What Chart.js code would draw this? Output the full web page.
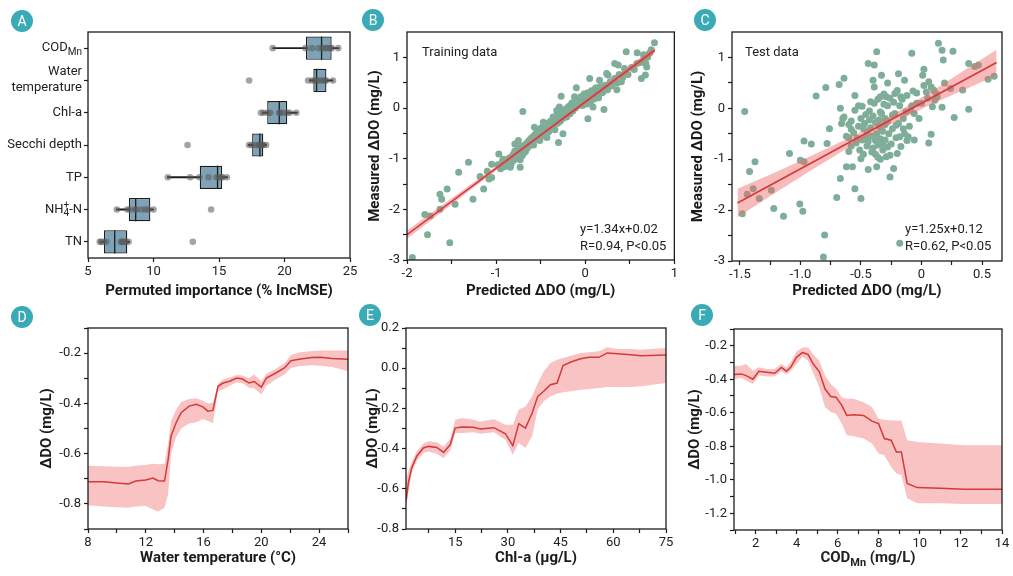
<!DOCTYPE html>
<html>
<head>
<meta charset="utf-8">
<script src="https://cdn.jsdelivr.net/npm/chart.js@4.4.1/dist/chart.umd.min.js"></script>
<style>
  body { margin: 0; background: #fff; }
  #wrap { position: relative; width: 1013px; height: 576px; overflow: hidden; font-family: Roboto, sans-serif; }
  canvas { position: absolute; }
  .tag { position: absolute; width: 22px; height: 22px; border-radius: 50%; background: #3aabb6;
         color: #fff; font: 14px Roboto, sans-serif; line-height: 22px; text-align: center; }
</style>
</head>
<body>
<div id="wrap">
  <canvas id="cA" width="360" height="300" style="left:0;top:0"></canvas>
  <canvas id="cB" width="320" height="300" style="left:360px;top:0"></canvas>
  <canvas id="cC" width="333" height="300" style="left:680px;top:0"></canvas>
  <canvas id="cD" width="360" height="276" style="left:0;top:300px"></canvas>
  <canvas id="cE" width="320" height="276" style="left:360px;top:300px"></canvas>
  <canvas id="cF" width="333" height="276" style="left:680px;top:300px"></canvas>
  <div class="tag" style="left:11px;top:10px">A</div>
  <div class="tag" style="left:362px;top:9px">B</div>
  <div class="tag" style="left:694px;top:9px">C</div>
  <div class="tag" style="left:11px;top:306px">D</div>
  <div class="tag" style="left:359px;top:304px">E</div>
  <div class="tag" style="left:691px;top:304px">F</div>
</div>
<script>
// ---------- A: permuted importance (box plots) ----------
const impVars = ['COD_{Mn}', 'Water\ntemperature', 'Chl-a', 'Secchi depth', 'TP', 'NH_{4}^{+}-N', 'TN'];
const impQ1  = [21.64, 22.2, 18.68, 17.53, 13.53, 8.13, 6.22];
const impQ3  = [23.6, 23.2, 20.21, 18.38, 15.24, 9.76, 8.0];
const impMed = [22.83, 22.45, 19.6, 18.12, 14.89, 8.64, 7.04];
const impLo  = [19.1, 21.9, 18.32, 17.23, 11.06, 7.17, 5.9];
const impHi  = [24.15, 23.7, 20.97, 18.63, 15.65, 10.0, 8.18];
const impPts = [
  [19.1, 21.6, 22.1, 22.6, 22.9, 23.1, 23.3, 23.5, 23.6, 24.1],
  [17.3, 21.8, 22.1, 22.3, 22.5, 22.7, 22.9, 23.1, 23.2, 23.7],
  [18.2, 18.4, 18.7, 18.9, 19.6, 19.65, 19.9, 20.2, 20.4, 20.9],
  [12.6, 17.3, 17.5, 17.8, 18.0, 18.1, 18.2, 18.3, 18.4, 18.6],
  [11.1, 12.8, 13.5, 14.2, 14.8, 15.0, 15.2, 15.25, 15.6],
  [7.2, 8.0, 8.2, 8.6, 8.7, 9.1, 9.4, 9.6, 10.0, 14.4],
  [5.9, 6.0, 6.2, 6.4, 7.5, 7.6, 7.7, 7.9, 8.1, 13.0]
];
const impTicks = [5, 10, 15, 20, 25];

// ---------- B: training data ----------
const trainPts = [
  [0.777,1.29],[0.46,1.11],[0.583,1.09],[0.654,1.05],[0.74,1.15],[0.68,0.88],[0.69,0.81],[0.63,0.58],[0.675,0.65],
  [0.33,0.88],[0.37,0.85],[0.24,0.68],[0.255,0.65],[0.44,0.78],[0.405,0.52],[0.355,0.36],[0.21,-0.03],[0.16,0.55],
  [0.05,0.58],[0.124,0.40],[0.2,0.32],[0.266,0.42],[0.03,-0.21],[0.087,0.02],[-0.006,0.15],[-0.1,0.40],[-0.12,0.22],
  [-0.06,0.09],[-0.17,-0.11],[-0.18,0.03],[-0.27,0.23],[-0.29,0.02],[-0.32,-0.05],[-0.36,-0.18],[-0.25,-0.51],
  [-0.30,-0.68],[-0.40,-0.38],[-0.47,-0.28],[-0.57,-0.38],[-0.58,-0.58],[-0.51,-0.64],[-0.43,-0.58],[-0.70,-0.07],
  [-0.75,-0.64],[-0.79,-0.71],[-0.71,-0.94],[-0.68,-0.87],[-0.73,-1.17],[-0.81,-1.04],[-0.84,-1.17],[-0.88,-1.14],
  [-0.92,-1.01],[-0.97,-0.91],[-1.05,-1.11],[-1.05,-1.37],[-1.14,-1.60],[-1.26,-1.80],[-1.31,-1.07],[-1.42,-1.27],
  [-1.46,-1.90],[-1.52,-2.66],[-1.55,-1.60],[-1.63,-1.70],[-1.61,-1.80],[-1.63,-2.0],[-1.74,-2.13],[-1.80,-2.10],
  [-1.77,-2.50],[-1.94,-2.95],
  [-0.88,-1.02],[-0.85,-0.98],[-0.83,-1.10],[-0.81,-0.92],[-0.79,-0.85],[-0.78,-1.00],[-0.76,-0.95],[-0.75,-0.82],
  [-0.74,-0.90],[-0.73,-1.02],[-0.72,-0.76],[-0.71,-0.85],[-0.70,-0.92],[-0.69,-0.80],[-0.68,-0.73],[-0.67,-0.86],
  [-0.66,-0.70],[-0.65,-0.79],[-0.64,-0.66],[-0.63,-0.75],[-0.62,-0.62],[-0.61,-0.71],[-0.60,-0.58],[-0.59,-0.67],
  [-0.58,-0.73],[-0.57,-0.54],[-0.56,-0.62],[-0.55,-0.50],[-0.54,-0.57],[-0.53,-0.45],[-0.52,-0.60],[-0.51,-0.52],
  [-0.50,-0.40],[-0.49,-0.48],[-0.48,-0.55],[-0.47,-0.36],[-0.46,-0.44],[-0.45,-0.51],[-0.44,-0.33],[-0.43,-0.41],
  [-0.42,-0.30],[-0.41,-0.47],[-0.40,-0.35],[-0.39,-0.26],[-0.38,-0.40],[-0.37,-0.30],[-0.36,-0.22],[-0.35,-0.33],
  [-0.34,-0.43],[-0.33,-0.25],[-0.32,-0.16],[-0.31,-0.30],[-0.30,-0.20],[-0.29,-0.11],[-0.28,-0.26],[-0.27,-0.15],
  [-0.26,-0.08],[-0.25,-0.20],[-0.24,-0.05],[-0.23,-0.13],[-0.22,-0.02],[-0.21,-0.18],[-0.20,-0.08],[-0.19,0.02],
  [-0.18,-0.12],[-0.17,0.05],[-0.16,-0.03],[-0.15,0.10],[-0.14,-0.06],[-0.13,0.04],[-0.12,0.12],[-0.11,0.00],
  [-0.10,0.08],[-0.09,0.16],[-0.08,0.05],[-0.07,0.18],[-0.06,0.10],[-0.05,0.22],[-0.04,0.12],[-0.03,0.05],
  [-0.02,0.20],[-0.01,0.28],[0.00,0.14],[0.01,0.24],[0.02,0.08],[0.03,0.30],[0.04,0.18],[0.05,0.26],[0.06,0.12],
  [0.07,0.34],[0.08,0.22],[0.09,0.30],[0.10,0.18],[0.11,0.38],[0.13,0.28],[0.15,0.20],[0.17,0.42],[0.19,0.30],
  [0.22,0.45],[0.25,0.36],[0.28,0.52],[0.30,0.44],[0.33,0.58],[0.36,0.50],[0.38,0.66],[0.42,0.60],[0.45,0.72],
  [0.48,0.66],[0.52,0.80],[0.55,0.76],[0.58,0.88],[0.62,0.90],[0.66,0.98],[0.70,1.00],[0.72,1.08],
  [-0.98,-1.12],[-0.95,-1.20],[-0.93,-1.05],[-0.91,-1.16],[-1.18,-1.35],[-1.10,-1.25],[-1.08,-1.40]
];
const trainLineX = [-2, 0.78];
const trainLineY = [-2.50, 1.14];
const trainBandX = [-2, -1.2, -0.6, 0, 0.78];
const trainBandUp = [-2.42, -1.40, -0.63, 0.16, 1.21];
const trainBandLo = [-2.58, -1.50, -0.70, 0.08, 1.07];

// ---------- C: test data ----------
const testPts = [
  [-1.46,-0.06],[-1.48,-2.07],[-1.44,-1.69],[-1.42,-1.24],[-1.375,-1.05],[-1.39,-1.58],[-1.34,-1.77],[-1.24,-1.61],
  [-1.22,-1.97],[-1.14,-2.12],[-1.09,-0.89],[-1.005,-1.88],[-0.98,-2.02],[-1.0,-1.02],[-0.97,-1.05],[-0.97,-0.64],
  [-0.91,-0.70],[-0.87,0.24],[-0.79,0.41],[-0.78,-0.69],[-0.80,-2.49],[-0.81,-2.92],[-0.76,-0.40],[-0.70,-1.75],
  [-0.68,0.47],[-0.64,0.59],[-0.67,0.0],[-0.66,-0.30],[-0.64,-0.17],[-0.67,-1.38],[-0.62,-1.15],[-0.60,-0.32],
  [-0.58,-0.41],[-0.60,-0.58],[-0.58,-0.74],[-0.57,-1.15],[-0.55,-0.04],[-0.55,-1.58],[-0.50,-1.77],[-0.53,-0.59],
  [-0.51,-0.82],[-0.50,-0.99],[-0.49,0.04],[-0.48,-0.40],[-0.46,-0.57],[-0.45,-0.74],[-0.44,0.88],[-0.44,-1.20],
  [-0.43,-0.23],[-0.42,0.13],[-0.41,-0.86],[-0.40,0.55],[-0.39,0.85],[-0.39,0.42],[-0.38,-0.63],[-0.37,-1.15],
  [-0.37,1.11],[-0.36,-0.96],[-0.35,-0.23],[-0.34,-0.07],[-0.34,0.23],[-0.33,-0.43],[-0.33,0.65],[-0.32,-0.69],
  [-0.31,0.08],[-0.30,-0.20],[-0.29,0.23],[-0.28,0.50],[-0.28,-0.76],[-0.26,-1.35],[-0.26,-0.92],[-0.24,-0.13],
  [-0.23,-1.18],[-0.22,0.29],[-0.21,-0.33],[-0.20,-0.89],[-0.19,0.68],[-0.18,-0.56],[-0.17,0.23],[-0.15,-0.40],
  [-0.14,0.55],[-0.13,-0.07],[-0.12,-0.63],[-0.11,-0.56],[-0.09,-0.04],[-0.08,1.08],[-0.07,0.34],[-0.06,-0.10],
  [-0.04,0.10],[0.01,0.65],[0.02,0.77],[0.04,0.32],[0.06,0.52],[0.06,-0.68],[0.08,0.42],[0.08,-0.51],[0.09,0.03],
  [0.10,0.36],[0.11,0.16],[0.14,1.28],[0.17,1.14],[0.18,0.95],[0.17,0.02],[0.19,0.50],[0.12,0.29],[0.13,0.23],
  [0.26,1.12],[0.24,0.39],[0.27,-0.18],[0.34,0.36],[0.39,0.88],[0.39,-0.02],[0.44,0.82],[0.47,0.85],[0.55,0.57],
  [0.60,0.63],[-0.18,-2.65],
  [-0.58,-0.25],[-0.56,-0.48],[-0.54,-0.68],[-0.52,-0.35],[-0.50,-0.20],[-0.49,-0.62],[-0.48,-0.90],[-0.47,-0.30],
  [-0.46,-0.12],[-0.45,-0.45],[-0.44,-0.65],[-0.43,-0.05],[-0.42,-0.38],[-0.41,-0.55],[-0.40,-0.78],[-0.40,-0.15],
  [-0.39,0.10],[-0.38,-0.28],[-0.38,-0.90],[-0.37,-0.50],[-0.36,0.18],[-0.36,-0.72],[-0.35,-0.35],[-0.34,-0.60],
  [-0.34,-1.00],[-0.33,-0.10],[-0.32,-0.45],[-0.32,-0.82],[-0.31,0.28],[-0.30,-0.32],[-0.30,-0.62],[-0.29,-0.95],
  [-0.28,0.05],[-0.28,-0.25],[-0.27,-0.50],[-0.26,0.20],[-0.25,-0.70],[-0.24,-0.40],[-0.23,0.12],[-0.22,-0.10],
  [-0.21,-0.58],[-0.20,0.35],[-0.19,-0.30],[-0.18,0.05],[-0.17,-0.75],[-0.16,0.18],[-0.15,-0.20],[-0.14,-0.50],
  [-0.12,0.25],[-0.10,-0.35],[-0.08,0.05],[-0.06,-0.62],[-0.04,0.30],[-0.02,-0.20],[0.00,0.10],[0.02,0.45],
  [0.05,0.20],[-0.52,0.05],[-0.60,-0.85],[-0.62,-0.55],[-0.65,-0.20],[-0.55,0.25]
];
const testLineX = [-1.52, 0.62];
const testLineY = [-1.86, 0.90];
const testBandX = [-1.52, -1.2, -0.9, -0.6, -0.4, -0.2, 0.1, 0.4, 0.62];
const testBandUp = [-1.58, -1.25, -0.92, -0.585, -0.34, -0.07, 0.36, 0.815, 1.15];
const testBandLo = [-2.14, -1.65, -1.20, -0.765, -0.50, -0.25, 0.10, 0.415, 0.65];

// ---------- D: water temperature ----------
const wtX  = [8.0, 9.1, 10.0, 10.8, 11.3, 12.0, 12.5, 12.85, 13.3, 13.55, 13.75, 14.1, 14.45, 15.0, 15.5, 15.95, 16.3, 16.65,
              17.0, 17.35, 17.8, 18.3, 18.7, 19.15, 19.5, 20.0, 20.35, 21.0, 21.6, 22.05, 22.6, 23.5, 24.1, 24.9, 26.0];
const wtY  = [-0.712, -0.712, -0.717, -0.721, -0.709, -0.705, -0.697, -0.708, -0.709, -0.622, -0.530, -0.477, -0.437, -0.411,
              -0.404, -0.414, -0.431, -0.428, -0.332, -0.319, -0.312, -0.299, -0.303, -0.319, -0.313, -0.335, -0.299, -0.279,
              -0.259, -0.230, -0.224, -0.217, -0.216, -0.221, -0.224];
const wtUp = [-0.648, -0.650, -0.652, -0.652, -0.648, -0.645, -0.640, -0.642, -0.640, -0.560, -0.470, -0.425, -0.395, -0.383,
              -0.380, -0.390, -0.400, -0.398, -0.322, -0.305, -0.297, -0.287, -0.289, -0.300, -0.285, -0.312, -0.282, -0.262,
              -0.240, -0.207, -0.198, -0.192, -0.190, -0.190, -0.190];
const wtLo = [-0.805, -0.810, -0.813, -0.815, -0.810, -0.808, -0.822, -0.830, -0.815, -0.760, -0.600, -0.535, -0.500, -0.480,
              -0.475, -0.462, -0.470, -0.478, -0.352, -0.345, -0.330, -0.316, -0.320, -0.338, -0.340, -0.365, -0.330, -0.305,
              -0.285, -0.259, -0.252, -0.248, -0.250, -0.255, -0.272];

// ---------- E: Chl-a ----------
const chlX  = [1, 1.67, 2.6, 4.05, 5.95, 7.4, 9.76, 11.7, 13.6, 15.0, 16.9, 20.2, 22.1, 26.0, 29.3, 31.4, 33.1, 35.0, 36.9,
               38.5, 40.2, 42.1, 44.0, 45.7, 47.9, 50.7, 53.1, 55.9, 58.3, 61.2, 65.0, 67.9, 75.0];
const chlY  = [-0.662, -0.571, -0.497, -0.438, -0.397, -0.389, -0.394, -0.419, -0.380, -0.298, -0.293, -0.294, -0.302, -0.296,
               -0.326, -0.385, -0.276, -0.298, -0.223, -0.140, -0.115, -0.082, -0.074, 0.013, 0.031, 0.047, 0.054, 0.054,
               0.076, 0.072, 0.067, 0.062, 0.066];
const chlUp = [-0.563, -0.51, -0.47, -0.414, -0.375, -0.364, -0.369, -0.389, -0.352, -0.256, -0.248, -0.256, -0.266, -0.253,
               -0.281, -0.281, -0.206, -0.19, -0.14, -0.074, -0.016, 0.026, 0.042, 0.051, 0.062, 0.076, 0.079, 0.084,
               0.104, 0.095, 0.095, 0.092, 0.10];
const chlLo = [-0.687, -0.62, -0.521, -0.463, -0.422, -0.414, -0.425, -0.447, -0.409, -0.322, -0.322, -0.319, -0.326, -0.319,
               -0.356, -0.430, -0.372, -0.397, -0.339, -0.206, -0.165, -0.14, -0.127, -0.12, -0.115, -0.107, -0.103, -0.099,
               -0.094, -0.094, -0.094, -0.09, -0.074];

// ---------- F: COD_Mn ----------
const codX  = [0.95, 1.3, 1.54, 1.87, 2.16, 2.55, 2.93, 3.26, 3.5, 3.71, 3.99, 4.29, 4.56, 4.81, 5.1, 5.38, 5.66, 5.92, 6.2,
               6.44, 6.77, 7.26, 7.67, 7.99, 8.27, 8.6, 8.86, 9.1, 9.38, 9.87, 11.0, 12.16, 14.0];
const codY  = [-0.372, -0.368, -0.378, -0.40, -0.352, -0.358, -0.364, -0.329, -0.352, -0.329, -0.269, -0.24, -0.253, -0.309,
               -0.354, -0.457, -0.503, -0.507, -0.556, -0.616, -0.612, -0.616, -0.650, -0.665, -0.754, -0.764, -0.834, -0.834,
               -1.022, -1.047, -1.051, -1.057, -1.057];
const codUp = [-0.319, -0.319, -0.309, -0.349, -0.329, -0.339, -0.339, -0.309, -0.329, -0.299, -0.234, -0.21, -0.21, -0.25,
               -0.289, -0.378, -0.428, -0.457, -0.507, -0.517, -0.517, -0.537, -0.566, -0.636, -0.642, -0.646, -0.646, -0.646,
               -0.764, -0.774, -0.784, -0.794, -0.794];
const codLo = [-0.398, -0.392, -0.408, -0.428, -0.378, -0.384, -0.384, -0.352, -0.372, -0.352, -0.309, -0.265, -0.289, -0.364,
               -0.448, -0.566, -0.596, -0.606, -0.665, -0.735, -0.741, -0.754, -0.784, -0.844, -0.853, -0.923, -0.962, -0.972,
               -1.111, -1.141, -1.141, -1.145, -1.145];

// ---------- helpers ----------
Chart.defaults.font.family = 'Roboto';
Chart.defaults.font.size = 13;
Chart.defaults.color = '#222';

const INK = '#1c1c1c';
const DOT = '#7fae98';
const RED = '#d33a3a';

function xy(xs, ys) { return xs.map((x, i) => ({ x: x, y: ys[i] })); }

function parseRich(s) {
  const segs = [];
  const re = /([_^])\{([^}]*)\}/g;
  let last = 0, m;
  while ((m = re.exec(s))) {
    if (m.index > last) segs.push({ t: s.slice(last, m.index), k: 'n' });
    segs.push({ t: m[2], k: m[1] === '_' ? 'sub' : 'sup' });
    last = re.lastIndex;
  }
  if (last < s.length) segs.push({ t: s.slice(last), k: 'n' });
  return segs;
}

// text with sub/superscripts, e.g. COD_{Mn}
function drawRich(ctx, s, x, y, align, size, weight) {
  const segs = parseRich(s);
  const fontFor = k => weight + ' ' + (k === 'n' ? size : Math.round(size * 0.75)) + 'px Roboto';
  const lay = [];
  let w = 0;
  segs.forEach((g, i) => {
    ctx.font = fontFor(g.k);
    const gw = ctx.measureText(g.t).width;
    let gx = w;
    if (g.k === 'sup' && i > 0 && segs[i - 1].k === 'sub') gx = lay[i - 1].x;
    lay.push({ x: gx });
    w = Math.max(w, gx + gw);
  });
  const x0 = align === 'right' ? x - w : align === 'center' ? x - w / 2 : x;
  ctx.save();
  ctx.fillStyle = '#222';
  ctx.textAlign = 'left';
  ctx.textBaseline = 'middle';
  segs.forEach((g, i) => {
    ctx.font = fontFor(g.k);
    const dy = g.k === 'sub' ? size * 0.32 : g.k === 'sup' ? -size * 0.3 : 0;
    ctx.fillText(g.t, x0 + lay[i].x, y + dy);
  });
  ctx.restore();
}

const framePlugin = {
  id: 'frame',
  afterDraw(chart) {
    const a = chart.chartArea, ctx = chart.ctx;
    ctx.save();
    ctx.strokeStyle = INK;
    ctx.lineWidth = 1.3;
    ctx.strokeRect(a.left, a.top, a.right - a.left, a.bottom - a.top);
    ctx.restore();
  }
};

const notesPlugin = {
  id: 'notes',
  afterDraw(chart, args, opts) {
    if (!opts.items) return;
    const a = chart.chartArea, ctx = chart.ctx;
    ctx.save();
    ctx.font = '13px Roboto';
    ctx.fillStyle = '#222';
    ctx.textBaseline = 'middle';
    opts.items.forEach(n => {
      const y = n.fromBottom ? a.bottom - n.dy : a.top + n.dy;
      ctx.fillText(n.text, a.left + n.dx, y);
    });
    ctx.restore();
  }
};

const richTitlePlugin = {
  id: 'richTitle',
  afterDraw(chart, args, opts) {
    if (!opts.text) return;
    const a = chart.chartArea;
    drawRich(chart.ctx, opts.text, (a.left + a.right) / 2, a.bottom + opts.dy, 'center', 15, 'bold');
  }
};

const richTicksPlugin = {
  id: 'richTicks',
  afterDraw(chart) {
    const ys = chart.scales.y;
    chart.data.labels.forEach((lab, i) => {
      const py = ys.getPixelForValue(i);
      const lines = lab.split('\n');
      lines.forEach((ln, j) => {
        drawRich(chart.ctx, ln, ys.right - 6, py + (j - (lines.length - 1) / 2) * 16 - (lines.length - 1), 'right', 13, 'normal');
      });
    });
  }
};

const medianPlugin = {
  id: 'medians',
  afterDatasetDraw(chart, args, opts) {
    if (args.index !== opts.boxIndex) return;
    const xs = chart.scales.x, ctx = chart.ctx;
    ctx.save();
    ctx.strokeStyle = INK;
    ctx.lineWidth = 1.3;
    args.meta.data.forEach((bar, i) => {
      const px = xs.getPixelForValue(opts.values[i]);
      ctx.beginPath();
      ctx.moveTo(px, bar.y - bar.height / 2);
      ctx.lineTo(px, bar.y + bar.height / 2);
      ctx.stroke();
    });
    ctx.restore();
  }
};

function tickGrid() {
  return { display: true, drawOnChartArea: false, drawTicks: true, tickLength: 4, tickWidth: 1.2, tickColor: INK, offset: false };
}

function axis(o) {
  return {
    type: 'linear', min: o.min, max: o.max,
    afterBuildTicks: ax => { ax.ticks = o.ticks.map(v => ({ value: v })); },
    afterFit: ax => { if (o.w != null) ax.width = o.w; if (o.h != null) ax.height = o.h; },
    grid: tickGrid(),
    border: { display: false },
    ticks: { autoSkip: false, maxRotation: 0, padding: o.w != null ? 3 : 2, color: '#222', font: { size: 13 },
             callback: v => (o.major.includes(v) ? o.fmt(v) : '') },
    title: o.title ? { display: true, text: o.title, color: '#1a1a1a', font: { size: 15, weight: 'bold' },
                       padding: { top: o.tpad || 0, bottom: o.tpad || 0 } } : { display: false }
  };
}

const fmt1 = v => v.toFixed(1);
const fmtN = v => String(v);
const fmtC = v => (v === 0 ? '0' : v.toFixed(1));

function baseOptions(pad) {
  return {
    responsive: false, animation: false,
    layout: { padding: pad },
    plugins: { legend: { display: false }, tooltip: { enabled: false } }
  };
}

// ---------- A ----------
(function () {
  const pts = impPts.flatMap((arr, i) => arr.map(v => ({ x: v, y: impVars[i] })));
  const opts = baseOptions({ top: 32, right: 10, left: 0, bottom: 0 });
  opts.indexAxis = 'y';
  opts.scales = {
    x: axis({ min: 5, max: 25, ticks: impTicks, major: impTicks, fmt: fmtN, h: 42,
              title: 'Permuted importance (% IncMSE)', tpad: 0 }),
    y: { type: 'category', offset: true, afterFit: ax => { ax.width = 88; },
         grid: tickGrid(), border: { display: false },
         ticks: { autoSkip: false, padding: 2, callback: () => '' } }
  };
  opts.plugins.medians = { boxIndex: 1, values: impMed };
  new Chart(document.getElementById('cA'), {
    type: 'bar',
    data: {
      labels: impVars,
      datasets: [
        { type: 'scatter', data: pts, backgroundColor: 'rgba(90,90,90,0.55)', pointRadius: 3.3, pointBorderWidth: 0, order: 0 },
        { data: impQ1.map((q, i) => [q, impQ3[i]]), backgroundColor: '#7fa3b6', borderColor: INK, borderWidth: 1.3,
          borderSkipped: false, barPercentage: 0.72, categoryPercentage: 1, grouped: false, order: 1 },
        { data: impLo.map((v, i) => [v, impHi[i]]), backgroundColor: INK, barThickness: 1.3, grouped: false, order: 2 }
      ]
    },
    options: opts,
    plugins: [framePlugin, medianPlugin, richTicksPlugin]
  });
})();

// ---------- B / C ----------
function scatterPanel(id, pts, lx, ly, bx, bu, bl, xo, yo, pad, notes) {
  const opts = baseOptions(pad);
  opts.scales = { x: axis(xo), y: axis(yo) };
  opts.plugins.notes = { items: notes };
  new Chart(document.getElementById(id), {
    type: 'line',
    data: {
      datasets: [
        { data: xy(lx, ly), borderColor: RED, borderWidth: 1.6, pointRadius: 0, fill: false, order: 0 },
        { data: xy(bx, bu), borderWidth: 0, pointRadius: 0, backgroundColor: 'rgba(240,105,105,0.45)', fill: '+1', order: 1 },
        { data: xy(bx, bl), borderWidth: 0, pointRadius: 0, fill: false, order: 2 },
        { data: pts.map(p => ({ x: p[0], y: p[1] })), showLine: false, pointRadius: 3.5, pointBorderWidth: 0,
          pointBackgroundColor: DOT, order: 3 }
      ]
    },
    options: opts,
    plugins: [framePlugin, notesPlugin]
  });
}

const yTicksBC = [-3, -2.5, -2, -1.5, -1, -0.5, 0, 0.5, 1];
const yMajorBC = [-3, -2, -1, 0, 1];

scatterPanel('cB', trainPts, trainLineX, trainLineY, trainBandX, trainBandUp, trainBandLo,
  { min: -2, max: 1, ticks: [-2, -1.5, -1, -0.5, 0, 0.5, 1], major: [-2, -1, 0, 1], fmt: fmtN, h: 40,
    title: 'Predicted ΔDO (mg/L)' },
  { min: -3, max: 1.5, ticks: yTicksBC, major: yMajorBC, fmt: fmtN, w: 47, title: 'Measured ΔDO (mg/L)', tpad: 6 },
  { top: 32, right: 5, left: 0, bottom: 0 },
  [{ text: 'Training data', dx: 15, dy: 21 },
   { text: 'y=1.34x+0.02', dx: 173, dy: 30, fromBottom: true },
   { text: 'R=0.94, P<0.05', dx: 173, dy: 13, fromBottom: true }]);

scatterPanel('cC', testPts, testLineX, testLineY, testBandX, testBandUp, testBandLo,
  { min: -1.565, max: 0.665, ticks: [-1.5, -1.25, -1, -0.75, -0.5, -0.25, 0, 0.25, 0.5], major: [-1.5, -1, -0.5, 0, 0.5],
    fmt: fmtC, h: 39, title: 'Predicted ΔDO (mg/L)' },
  { min: -3, max: 1.5, ticks: yTicksBC, major: yMajorBC, fmt: fmtN, w: 52, title: 'Measured ΔDO (mg/L)', tpad: 9 },
  { top: 32, right: 11, left: 0, bottom: 0 },
  [{ text: 'Test data', dx: 13, dy: 21 },
   { text: 'y=1.25x+0.12', dx: 173, dy: 31, fromBottom: true },
   { text: 'R=0.62, P<0.05', dx: 173, dy: 14, fromBottom: true }]);

// ---------- D / E / F ----------
function pdPanel(id, xs, ys, up, lo, xo, yo, pad, richTitle) {
  const opts = baseOptions(pad);
  opts.scales = { x: axis(xo), y: axis(yo) };
  if (richTitle) opts.plugins.richTitle = richTitle;
  new Chart(document.getElementById(id), {
    type: 'line',
    data: {
      datasets: [
        { data: xy(xs, ys), borderColor: RED, borderWidth: 1.5, pointRadius: 0, fill: false, order: 0 },
        { data: xy(xs, up), borderWidth: 0, pointRadius: 0, backgroundColor: '#f9c3c3', fill: '+1', order: 1 },
        { data: xy(xs, lo), borderWidth: 0, pointRadius: 0, fill: false, order: 2 }
      ]
    },
    options: opts,
    plugins: [framePlugin, richTitlePlugin]
  });
}

pdPanel('cD', wtX, wtY, wtUp, wtLo,
  { min: 8, max: 26, ticks: [8, 10, 12, 14, 16, 18, 20, 22, 24, 26], major: [8, 12, 16, 20, 24], fmt: fmtN, h: 47,
    title: 'Water temperature (°C)', tpad: 9 },
  { min: -0.9, max: -0.1, ticks: [-0.9, -0.8, -0.7, -0.6, -0.5, -0.4, -0.3, -0.2, -0.1], major: [-0.8, -0.6, -0.4, -0.2],
    fmt: fmt1, w: 88, title: 'ΔDO (mg/L)', tpad: 38 },
  { top: 28, right: 12, left: 0, bottom: 0 });

pdPanel('cE', chlX, chlY, chlUp, chlLo,
  { min: 1, max: 75, ticks: [7.5, 15, 22.5, 30, 37.5, 45, 52.5, 60, 67.5, 75], major: [15, 30, 45, 60, 75], fmt: fmtN, h: 47,
    title: 'Chl-a (μg/L)', tpad: 9 },
  { min: -0.8, max: 0.2, ticks: [-0.8, -0.7, -0.6, -0.5, -0.4, -0.3, -0.2, -0.1, 0, 0.1, 0.2],
    major: [-0.8, -0.6, -0.4, -0.2, 0, 0.2], fmt: fmt1, w: 46, title: 'ΔDO (mg/L)', tpad: 4 },
  { top: 28, right: 14, left: 0, bottom: 0 });

pdPanel('cF', codX, codY, codUp, codLo,
  { min: 0.95, max: 14, ticks: [1, 2, 3, 4, 5, 6, 7, 8, 9, 10, 11, 12, 13, 14], major: [2, 4, 6, 8, 10, 12, 14], fmt: fmtN, h: 46 },
  { min: -1.3, max: -0.1, ticks: [-1.3, -1.2, -1.1, -1.0, -0.9, -0.8, -0.7, -0.6, -0.5, -0.4, -0.3, -0.2, -0.1],
    major: [-1.2, -1.0, -0.8, -0.6, -0.4, -0.2], fmt: fmt1, w: 54, title: 'ΔDO (mg/L)', tpad: 6 },
  { top: 29, right: 11, left: 0, bottom: 0 },
  { text: 'COD_{Mn} (mg/L)', dy: 28 });
</script>
</body>
</html>
